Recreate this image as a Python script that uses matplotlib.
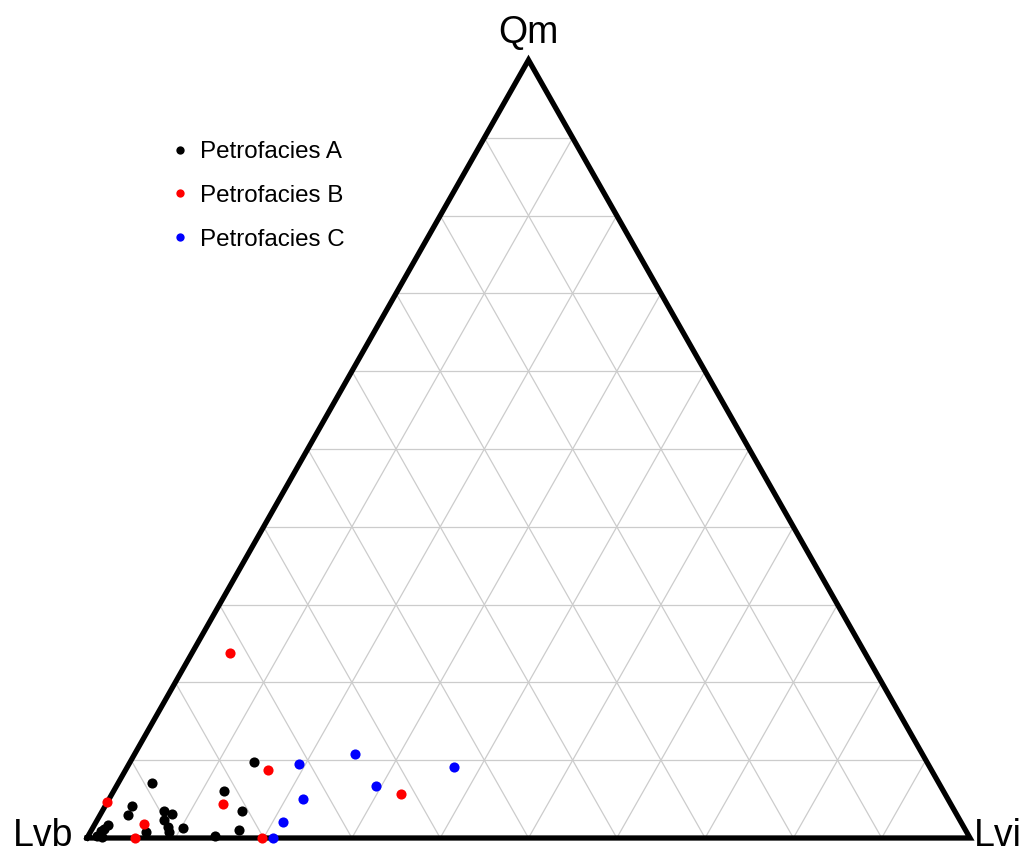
import matplotlib
matplotlib.use("Agg")
import matplotlib.pyplot as plt
import numpy as np

plt.rcParams['font.family'] = ['Liberation Sans', 'DejaVu Sans']

# Ternary data in percent: (Qm, Lvi); Lvb = 100 - Qm - Lvi
A_qm  = [9.8, 7.1, 6.0, 4.1, 3.0, 3.5, 3.1, 3.5, 2.3, 0.8, 1.4, 0.8, 1.3, 1.0, 0.3, 1.7, 0.9, 0.1, 0.3, 1.2]
A_lvi = [14.0, 3.8, 12.5, 3.0, 3.1, 7.0, 8.1, 15.8, 7.6, 6.3, 8.5, 8.9, 10.2, 16.7, 14.3, 1.5, 1.1, 1.7, 1.0, 1.3]
B_qm  = [23.8, 8.7, 5.7, 4.6, 4.4, 1.8, 0.0, 0.0]
B_lvi = [4.3, 16.1, 32.7, 0.0, 13.2, 5.6, 5.4, 19.8]
C_qm  = [10.8, 9.1, 9.5, 6.7, 5.0, 2.1, 0.0]
C_lvi = [25.0, 37.0, 19.3, 29.4, 22.0, 21.1, 21.1]

series_names = ['Petrofacies A', 'Petrofacies B', 'Petrofacies C']
series_colors = ['black', 'red', 'blue']
vertex_labels = ['Qm', 'Lvb', 'Lvi']

W, H = 1036, 856
fig = plt.figure(figsize=(W / 100, H / 100), dpi=100)
left, right, bottom_px, top_px = 87, 970, 838, 60
ax = fig.add_axes([left / W, 1 - bottom_px / H, (right - left) / W, (bottom_px - top_px) / H])
ax.set_xlim(0, 1)
ax.set_ylim(0, 1)
ax.axis('off')


def to_xy(qm, lvi):
    q = np.asarray(qm) / 100.0
    r = np.asarray(lvi) / 100.0
    return r + 0.5 * q, q

# grid
for k in range(1, 10):
    f = k / 10
    # constant Qm
    ax.plot([0.5 * f, 1 - 0.5 * f], [f, f], color='#cccccc', lw=0.9, zorder=1)
    # constant Lvi
    x0, y0 = to_xy(0, f * 100)
    x1, y1 = to_xy((1 - f) * 100, f * 100)
    ax.plot([x0, x1], [y0, y1], color='#cccccc', lw=0.9, zorder=1)
    # constant Lvb
    x0, y0 = to_xy(0, (1 - f) * 100)
    x1, y1 = to_xy((1 - f) * 100, 0)
    ax.plot([x0, x1], [y0, y1], color='#cccccc', lw=0.9, zorder=1)

# triangle
ax.plot([0, 1, 0.5, 0], [0, 0, 1, 0], color='black', lw=3.8, solid_joinstyle='miter',
        clip_on=False, zorder=2)

data = [(A_qm, A_lvi), (B_qm, B_lvi), (C_qm, C_lvi)]
for (qm, lvi), name, col in zip(data, series_names, series_colors):
    x, y = to_xy(qm, lvi)
    ax.plot(x, y, 'o', color=col, ms=7.3, mec='none', label=name, clip_on=False, zorder=3)

fs_v = 27
fig.text(528 / W, 1 - 33 / H, vertex_labels[0], ha='center', va='center', fontsize=fs_v)
fig.text(73 / W, 1 - 836 / H, vertex_labels[1], ha='right', va='center', fontsize=fs_v)
fig.text(974 / W, 1 - 836 / H, vertex_labels[2], ha='left', va='center', fontsize=fs_v)

leg = fig.legend(loc='upper left', bbox_to_anchor=(173 / W, 1 - 141 / H), frameon=False,
                 fontsize=17.4, handlelength=0.6, handletextpad=0.5, labelspacing=0.9,
                 markerscale=0.82, borderaxespad=0, borderpad=0)

fig.savefig('out.png', dpi=100, facecolor='white')
